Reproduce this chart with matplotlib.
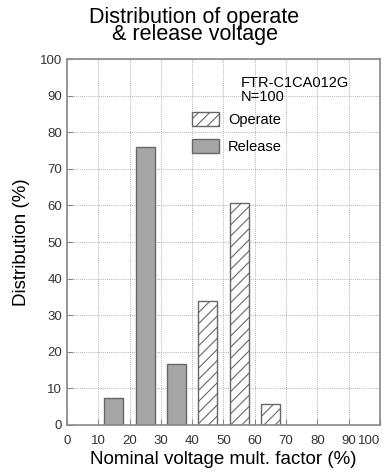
import numpy as np
import matplotlib
matplotlib.use("Agg")
import matplotlib.pyplot as plt

plt.rcParams['font.family'] = ['Liberation Sans', 'DejaVu Sans']
plt.rcParams['hatch.linewidth'] = 0.8

# data
release_x = [15, 25, 35]
release_pct = [7.3, 76, 16.7]
operate_x = [45, 55, 65]
operate_pct = [34, 60.6, 5.7]
ticks = [0, 10, 20, 30, 40, 50, 60, 70, 80, 90, 100]

fig = plt.figure(figsize=(3.89, 4.74), dpi=100)
ax = fig.add_axes([0.172, 0.1034, 0.805, 0.772])

ax.set_axisbelow(True)
ax.grid(True, color='#999999', linestyle=(0, (1, 1.5)), linewidth=0.6)

rel = ax.bar(release_x, release_pct, width=6, color='#a6a6a6',
             edgecolor='#666666', linewidth=1.0, label='Release')
op = ax.bar(operate_x, operate_pct, width=6, color='white',
            edgecolor='#666666', linewidth=1.0, hatch='///', label='Operate')

ax.set_xlim(0, 100)
ax.set_ylim(0, 100)
ax.set_xticks(ticks)
ax.set_yticks(ticks)
ax.tick_params(direction='in', length=4, color='#888888', labelcolor='#333333',
               labelsize=9.5, width=0.8)
ax.tick_params(axis='x', pad=7)
ax.get_xticklabels()[-1].set_ha('right')
ax.get_xticklabels()[-1].set_x(100)
for s in ax.spines.values():
    s.set_color('#888888')
    s.set_linewidth(1.2)

ax.set_xlabel("Nominal voltage mult. factor (%)", fontsize=13.5, labelpad=3)
ax.set_ylabel("Distribution (%)", fontsize=13.5, labelpad=7)

fig.text(0.5, 0.986, "Distribution of operate\n& release voltage", ha='center',
         va='top', fontsize=15.5, linespacing=0.76)

ax.text(0.556, 0.955, "FTR-C1CA012G\nN=100", transform=ax.transAxes,
        ha='left', va='top', fontsize=10.5, linespacing=1.0)

ax.legend(handles=[op, rel], loc='upper left', bbox_to_anchor=(0.40, 0.855),
          frameon=False, fontsize=10.5, borderpad=0, borderaxespad=0,
          handlelength=1.85, handleheight=1.1, handletextpad=0.6, labelspacing=0.85)

fig.savefig("out.png", dpi=100)
